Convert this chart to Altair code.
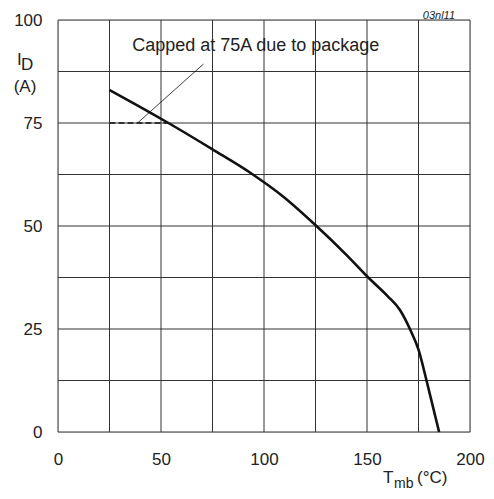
import altair as alt
import pandas as pd

# Derating curve: I_D (A) vs T_mb (°C)
temp = [25, 38.5, 53.6, 75, 93.7, 109.4, 124.8, 140, 150.6, 160, 166, 171, 175, 179, 185]
current = [83, 79.3, 75, 68.6, 62.8, 57.1, 50.3, 43, 37.5, 33, 29.6, 24.8, 20, 12.3, 0]

cap_temp = [25, 53.6]
cap_current = [75, 75]

leader_temp = [38.6, 70.6]
leader_current = [75, 89.3]

x_ticks = [0, 50, 100, 150, 200]
y_ticks = [0, 25, 50, 75, 100]
x_grid = [0, 25, 50, 75, 100, 125, 150, 175, 200]
y_grid = [0, 12.5, 25, 37.5, 50, 62.5, 75, 87.5, 100]

FONT = "Liberation Sans"
W, H = 412, 412

curve_df = pd.DataFrame({"T": temp, "I": current})
cap_df = pd.DataFrame({"T": cap_temp, "I": cap_current})
leader_df = pd.DataFrame({"T": leader_temp, "I": leader_current})

xs = alt.Scale(domain=[0, 200], nice=False)
ys = alt.Scale(domain=[0, 100], nice=False)

x_axis = alt.Axis(values=x_ticks, grid=False, labelFlush=False,
                  ticks=False, domain=False, labelPadding=19, labelFontSize=17,
                  labelFont=FONT, labelColor="#222222", title=None)
y_axis = alt.Axis(values=y_ticks, grid=False, ticks=False, domain=False,
                  labelFlush=False,
                  labelPadding=16, labelFontSize=17, labelFont=FONT,
                  labelColor="#222222", title=None)

grid_x_df = pd.DataFrame({"T": x_grid})
grid_y_df = pd.DataFrame({"I": y_grid})

vgrid = alt.Chart(grid_x_df).mark_rule(color="#333333", strokeWidth=1).encode(
    x=alt.X("T:Q", scale=xs, axis=x_axis))
hgrid = alt.Chart(grid_y_df).mark_rule(color="#333333", strokeWidth=1).encode(
    y=alt.Y("I:Q", scale=ys, axis=y_axis))

curve = alt.Chart(curve_df).mark_line(color="#111111", strokeWidth=2.6,
                                      interpolate="monotone").encode(
    x=alt.X("T:Q", scale=xs), y=alt.Y("I:Q", scale=ys))

cap = alt.Chart(cap_df).mark_line(color="#111111", strokeWidth=1.3,
                                  strokeDash=[6, 3]).encode(
    x=alt.X("T:Q", scale=xs), y=alt.Y("I:Q", scale=ys))

leader = alt.Chart(leader_df).mark_line(color="#111111", strokeWidth=0.8).encode(
    x=alt.X("T:Q", scale=xs), y=alt.Y("I:Q", scale=ys))

note_df = pd.DataFrame({"T": [96], "I": [93.6], "t": ["Capped at 75A due to package"]})
note = alt.Chart(note_df).mark_text(font=FONT, fontSize=18, color="#222222",
                                    align="center", baseline="middle").encode(
    x=alt.X("T:Q", scale=xs), y=alt.Y("I:Q", scale=ys), text="t:N")

labels_df = pd.DataFrame({
    "t": ["I", "D", "(A)", "T", "mb", "(°C)", "03nl11"],
    "px": [-41, -37, -33, 325, 336, 359, 397],
    "py": [45, 50, 72, 463, 468, 463, -1],
})

def lab(i, size, align="left", style="normal"):
    d = labels_df.iloc[[i]]
    return alt.Chart(d).mark_text(font=FONT, fontSize=size, color="#222222",
                                  align=align, baseline="alphabetic",
                                  fontStyle=style).encode(
        x=alt.value(float(d["px"].iloc[0])), y=alt.value(float(d["py"].iloc[0])),
        text="t:N")

texts = [
    lab(0, 17), lab(1, 17), lab(2, 17, "center"),
    lab(3, 17), lab(4, 14), lab(5, 17),
    lab(6, 11, "right", "italic"),
]

chart = alt.layer(vgrid, hgrid, cap, leader, curve, note, *texts).properties(
    width=W, height=H,
    autosize=alt.AutoSizeParams(type="none"),
    padding={"left": 50, "top": 12, "right": 16, "bottom": 59},
).configure_view(stroke="#333333", strokeWidth=1).configure(background="white")

chart.save("out.html", embed_options={"renderer": "svg", "actions": False})
